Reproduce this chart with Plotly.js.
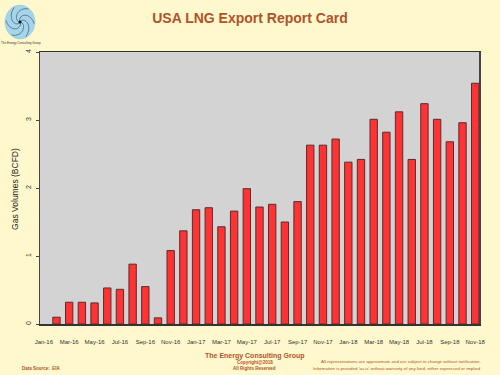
<!DOCTYPE html>
<html>
<head>
<meta charset="utf-8">
<script src="https://cdn.plot.ly/plotly-3.0.1.min.js"></script>
<style>html,body{margin:0;padding:0;background:#FFF8CC;}#chart{width:500px;height:375px;}</style>
</head>
<body>
<div id="chart"></div>
<script>
var months = ["Jan-16","Feb-16","Mar-16","Apr-16","May-16","Jun-16","Jul-16","Aug-16","Sep-16","Oct-16","Nov-16","Dec-16",
              "Jan-17","Feb-17","Mar-17","Apr-17","May-17","Jun-17","Jul-17","Aug-17","Sep-17","Oct-17","Nov-17","Dec-17",
              "Jan-18","Feb-18","Mar-18","Apr-18","May-18","Jun-18","Jul-18","Aug-18","Sep-18","Oct-18","Nov-18"];
var exportsBcfd = [null, 0.10, 0.32, 0.32, 0.31, 0.53, 0.51, 0.88, 0.55, 0.09, 1.08, 1.37,
                   1.68, 1.71, 1.43, 1.66, 1.99, 1.72, 1.76, 1.50, 1.80, 2.63, 2.63, 2.72,
                   2.38, 2.42, 3.01, 2.82, 3.12, 2.42, 3.24, 3.01, 2.68, 2.96, 3.54];
var tickLabels = ["Jan-16","Mar-16","May-16","Jul-16","Sep-16","Nov-16","Jan-17","Mar-17","May-17","Jul-17",
                  "Sep-17","Nov-17","Jan-18","Mar-18","May-18","Jul-18","Sep-18","Nov-18"];
var yTicks = [0, 1, 2, 3, 4];

var L = 40, R = 479.5, T = 52, B = 324.3, W = 500, H = 375;
function px(x){ return (x - L) / (R - L); }
function py(y){ return (B - y) / (B - T); }

var sienna = '#B0532B';
var font = "Liberation Sans, Arial, sans-serif";

var shapes = [];
var cx = 20, cy = 22, rx = 15, ry = 17;
shapes.push({type:'circle', xref:'paper', yref:'paper', x0:px(cx-rx), x1:px(cx+rx), y0:py(cy+ry), y1:py(cy-ry),
  fillcolor:'#A6D5EA', line:{color:'#8FC4DC', width:0.5}, layer:'above'});
for (var k = 0; k < 6; k++) {
  var a0 = k * Math.PI / 3;
  var d = '';
  for (var s = 0; s <= 12; s++) {
    var t = s / 12;
    var r = t * 0.95;
    var ang = a0 + t * 2.2;
    var X = px(cx + Math.cos(ang) * r * rx);
    var Y = py(cy + Math.sin(ang) * r * ry);
    d += (s === 0 ? 'M' : 'L') + X.toFixed(5) + ',' + Y.toFixed(5) + ' ';
  }
  shapes.push({type:'path', xref:'paper', yref:'paper', path:d, line:{color:'#3a5a70', width:0.7}, layer:'above'});
}
shapes.push({type:'circle', xref:'paper', yref:'paper', x0:px(cx-1.5), x1:px(cx+1.5), y0:py(cy+1.5), y1:py(cy-1.5),
  fillcolor:'#111', line:{width:0}, layer:'above'});

var annotations = [
  {text:'The Energy Consulting Group', x:px(21), y:py(43), xref:'paper', yref:'paper', showarrow:false,
   font:{family:font, size:3, color:'#333'}, xanchor:'center', yanchor:'middle'},
  {text:'Gas Volumes (BCFD)', x:px(15), y:py(189), xref:'paper', yref:'paper', showarrow:false, textangle:-90,
   font:{family:font, size:8.5, color:'#222'}, xanchor:'center', yanchor:'middle'},
  {text:'<b>The Energy Consulting Group</b>', x:px(255), y:py(356), xref:'paper', yref:'paper', showarrow:false,
   font:{family:font, size:7, color:sienna}, xanchor:'center', yanchor:'middle'},
  {text:'<b>Copyright@2018</b>', x:px(255), y:py(362.5), xref:'paper', yref:'paper', showarrow:false,
   font:{family:font, size:4.5, color:sienna}, xanchor:'center', yanchor:'middle'},
  {text:'<b>All Rights Reserved</b>', x:px(255), y:py(369.3), xref:'paper', yref:'paper', showarrow:false,
   font:{family:font, size:4.5, color:sienna}, xanchor:'center', yanchor:'middle'},
  {text:'<b>Data Source:  EIA</b>', x:px(20), y:py(368.7), xref:'paper', yref:'paper', showarrow:false,
   font:{family:font, size:4.5, color:sienna}, xanchor:'left', yanchor:'middle'},
  {text:'All representations are approximate and are subject to change without notification.', x:px(484), y:py(361.7), xref:'paper', yref:'paper', showarrow:false,
   font:{family:font, size:4.4, color:sienna}, xanchor:'right', yanchor:'middle'},
  {text:"Information is provided 'as is' without warranty of any kind, either expressed or implied", x:px(484), y:py(368.7), xref:'paper', yref:'paper', showarrow:false,
   font:{family:font, size:4.4, color:sienna}, xanchor:'right', yanchor:'middle'}
];

var trace = {
  type:'bar', x:months, y:exportsBcfd,
  marker:{color:'#FF3333', line:{color:'#5E2A2A', width:1}},
  hoverinfo:'skip'
};

var layout = {
  width:W, height:H,
  margin:{l:L, r:W-R, t:T, b:H-B, pad:0},
  paper_bgcolor:'#FFF8CC', plot_bgcolor:'#D3D3D3',
  showlegend:false,
  bargap:0.42,
  title:{text:'<b>USA LNG Export Report Card</b>', x:0.5, xanchor:'center', y:1-18/H, yanchor:'middle', xref:'container', yref:'container',
         font:{family:font, size:14, color:sienna}},
  xaxis:{type:'category', range:[-0.3, 34.3], tickmode:'array', tickvals:tickLabels, ticktext:tickLabels,
         ticks:'', showgrid:false, zeroline:false, showline:true, mirror:true, linecolor:'#333', linewidth:1.5,
         tickfont:{family:font, size:6, color:'#333'}, ticklabelstandoff:11, tickangle:0, fixedrange:true},
  yaxis:{range:[0, 4], tickmode:'array', tickvals:yTicks, ticks:'outside', ticklen:3, tickcolor:'#444', tickwidth:1,
         showgrid:false, zeroline:false, showline:true, mirror:true, linecolor:'#444', linewidth:1.5,
         tickangle:-90, tickfont:{family:font, size:7, color:'#333'}, ticklabelstandoff:2, fixedrange:true},
  shapes:shapes,
  annotations:annotations
};

Plotly.newPlot('chart', [trace], layout, {staticPlot:true, displayModeBar:false});
</script>
</body>
</html>
